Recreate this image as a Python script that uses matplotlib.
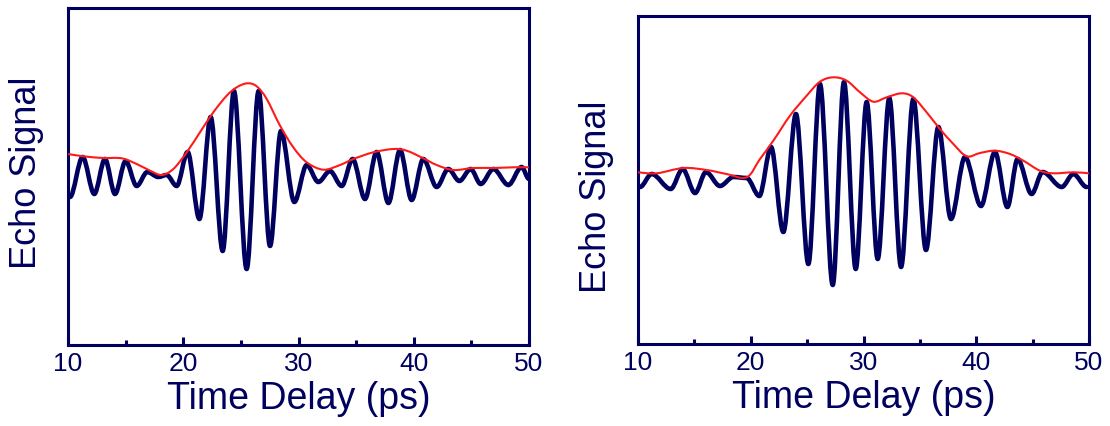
import numpy as np
import matplotlib
matplotlib.use("Agg")
import matplotlib.pyplot as plt
from matplotlib.path import Path
from matplotlib.patches import PathPatch
from matplotlib.ticker import MultipleLocator

plt.rcParams['font.family'] = ['Liberation Sans', 'DejaVu Sans']

NAVY = '#00005f'
RED = '#ff1a1a'

# left panel: extrema of the echo signal (ps, a.u.)
left_t = [10.17, 11.27, 12.28, 13.21, 14.08, 15.00, 15.96, 16.88, 17.84, 18.56,
          19.43, 20.38, 21.40, 22.38, 23.42, 24.40, 25.50, 26.54, 27.53, 28.48,
          29.64, 30.71, 31.72, 32.73, 33.75, 34.70, 35.77, 36.78, 37.80, 38.81,
          39.82, 40.83, 41.99, 43.00, 43.96, 44.94, 45.81, 46.91, 48.21, 49.36,
          50.0]
left_s = [-0.23, 0.17, -0.20, 0.15, -0.20, 0.13, -0.12, 0.02, -0.03, -0.01,
          -0.12, 0.22, -0.45, 0.57, -0.77, 0.83, -0.95, 0.83, -0.72, 0.43,
          -0.28, 0.09, -0.08, 0.03, -0.12, 0.15, -0.25, 0.22, -0.29, 0.24,
          -0.26, 0.15, -0.13, 0.05, -0.07, 0.05, -0.10, 0.05, -0.11, 0.07,
          -0.05]
# left panel: envelope
left_env_t = [10.0, 11.33, 13.07, 14.66, 15.96, 17.12, 18.13, 19.14, 20.30, 21.45,
              22.61, 23.77, 24.64, 25.56, 26.37, 27.24, 28.40, 29.55, 30.71, 32.16,
              33.60, 34.76, 36.49, 38.23, 39.39, 40.83, 41.99, 43.44, 45.17, 46.91,
              48.64, 50.0]
left_env_s = [0.20, 0.177, 0.16, 0.157, 0.10, 0.033, -0.01, 0.05, 0.217, 0.417,
              0.617, 0.783, 0.867, 0.907, 0.877, 0.75, 0.483, 0.267, 0.117, 0.043,
              0.09, 0.15, 0.217, 0.25, 0.233, 0.157, 0.09, 0.04, 0.06, 0.06,
              0.067, 0.067]

# right panel: extrema of the echo signal
right_t = [10.18, 11.21, 12.90, 13.96, 15.06, 16.03, 17.27, 18.46, 19.64, 20.76,
           21.80, 22.89, 24.01, 25.11, 26.14, 27.27, 28.27, 29.31, 30.28, 31.26,
           32.29, 33.33, 34.42, 35.54, 36.64, 37.76, 39.00, 40.42, 41.66, 42.76,
           43.67, 44.91, 45.89, 47.58, 48.61, 49.79]
right_s = [-0.13, 0.0, -0.15, 0.05, -0.19, 0.02, -0.12, -0.03, -0.04, -0.22,
           0.27, -0.58, 0.60, -0.90, 0.90, -1.11, 0.92, -0.95, 0.72, -0.85,
           0.76, -0.93, 0.75, -0.76, 0.47, -0.45, 0.17, -0.32, 0.22, -0.33,
           0.15, -0.20, 0.02, -0.13, 0.0, -0.13]
# right panel: envelope
right_env_t = [10.0, 11.66, 14.02, 16.09, 17.86, 19.64, 20.82, 22.00, 23.48, 24.96,
               26.14, 27.32, 28.51, 29.69, 30.87, 32.05, 33.39, 34.42, 35.60, 36.78,
               37.97, 39.15, 40.33, 41.66, 42.99, 44.18, 45.65, 46.84, 48.61, 50.0]
right_env_s = [0.017, 0.007, 0.06, 0.04, 0.0, -0.033, 0.15, 0.333, 0.583, 0.783,
               0.923, 0.967, 0.933, 0.817, 0.723, 0.767, 0.807, 0.767, 0.617, 0.45,
               0.30, 0.177, 0.21, 0.233, 0.20, 0.133, 0.033, 0.007, 0.017, 0.007]


def wave_path(t, s):
    # smooth half-periods between successive extrema (flat tangents)
    verts = [(t[0], s[0])]
    codes = [Path.MOVETO]
    for i in range(len(t) - 1):
        d = (t[i + 1] - t[i]) / 3.0
        verts += [(t[i] + d, s[i]), (t[i + 1] - d, s[i + 1]), (t[i + 1], s[i + 1])]
        codes += [Path.CURVE4] * 3
    return Path(verts, codes)


def smooth_path(t, s):
    # catmull-rom through the given points
    p = np.column_stack([t, s])
    p = np.vstack([p[0], p, p[-1]])
    verts = [tuple(p[1])]
    codes = [Path.MOVETO]
    for i in range(1, len(p) - 2):
        c1 = p[i] + (p[i + 1] - p[i - 1]) / 6.0
        c2 = p[i + 1] - (p[i + 2] - p[i]) / 6.0
        verts += [tuple(c1), tuple(c2), tuple(p[i + 1])]
        codes += [Path.CURVE4] * 3
    return Path(verts, codes)


fig = plt.figure(figsize=(11.1, 4.27), dpi=100)
ax1 = fig.add_axes([68 / 1110, 1 - 346 / 427, 461 / 1110, 337 / 427])
ax2 = fig.add_axes([638 / 1110, 1 - 345 / 427, 451 / 1110, 328.5 / 427])

panels = [
    (ax1, left_t, left_s, left_env_t, left_env_s, (-1.71, 1.66)),
    (ax2, right_t, right_s, right_env_t, right_env_s, (-1.70, 1.585)),
]
for ax, t, s, et, es, yl in panels:
    ax.add_patch(PathPatch(wave_path(t, s), fill=False, edgecolor=NAVY, lw=3.3,
                           capstyle='round', joinstyle='round', zorder=2))
    ax.add_patch(PathPatch(smooth_path(et, es), fill=False, edgecolor=RED, lw=1.5,
                           zorder=3))
    ax.set_xlim(10, 50)
    ax.set_ylim(*yl)
    ax.xaxis.set_major_locator(MultipleLocator(10))
    ax.xaxis.set_minor_locator(MultipleLocator(5))
    ax.tick_params(axis='x', which='both', direction='in', top=False, width=2.2,
                   color=NAVY, labelcolor=NAVY, labelsize=19, pad=4)
    ax.tick_params(axis='x', which='major', length=6)
    ax.tick_params(axis='x', which='minor', length=3.5)
    ax.tick_params(axis='y', which='both', left=False, labelleft=False)
    for sp in ax.spines.values():
        sp.set_color(NAVY)
        sp.set_linewidth(2.2)
    ax.set_xlabel('Time Delay (ps)', fontsize=27, color=NAVY, labelpad=4)

fig.text(27 / 1110, 1 - 173 / 427, 'Echo Signal', rotation=90, ha='center',
         va='center', fontsize=26, color=NAVY)
fig.text(596 / 1110, 1 - 197 / 427, 'Echo Signal', rotation=90, ha='center',
         va='center', fontsize=26, color=NAVY)

fig.savefig('out.png', dpi=100)
